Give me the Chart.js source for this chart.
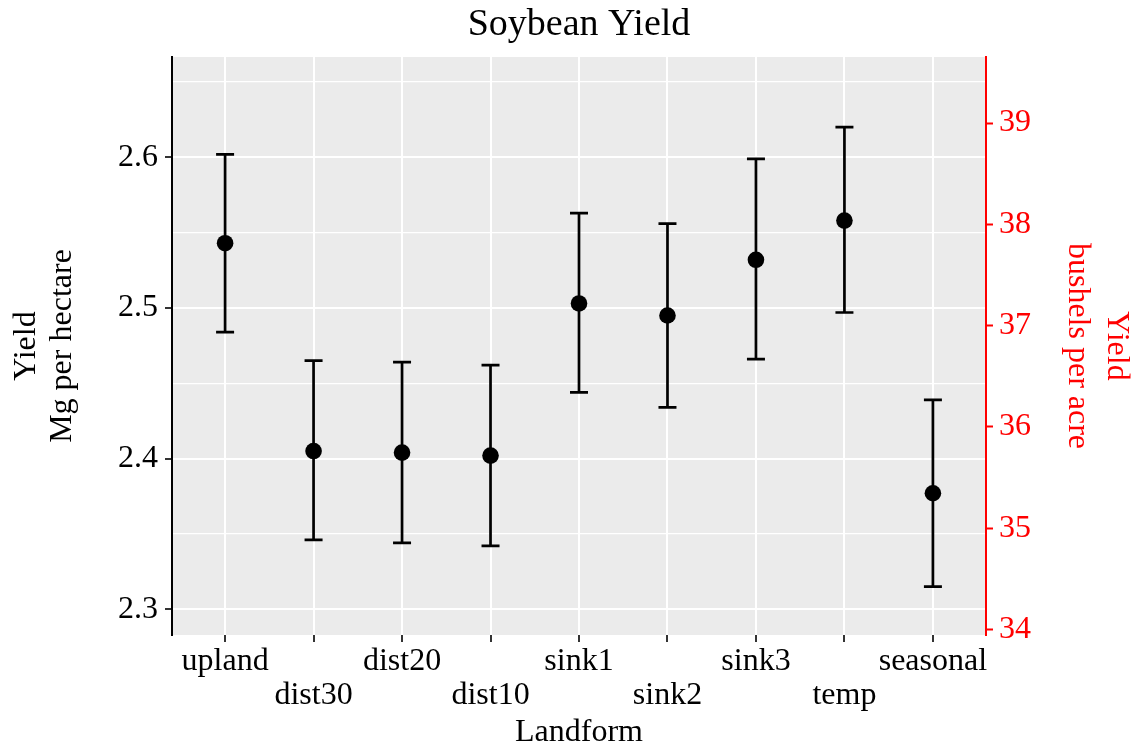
<!DOCTYPE html>
<html lang="en">
<head>
  <meta charset="UTF-8" />
  <title>Soybean Yield</title>
  <script src="https://cdn.jsdelivr.net/npm/chart.js"></script>
  <style>
    body { margin: 0; background: #ffffff; }
    canvas { display: block; }
  </style>
</head>
<body>
  <canvas id="yieldChart" width="1135" height="746"></canvas>

  <script>
    // Data
    const landforms = ['upland', 'dist30', 'dist20', 'dist10', 'sink1', 'sink2', 'sink3', 'temp', 'seasonal'];
    const yieldMean  = [2.543, 2.405, 2.404, 2.402, 2.503, 2.495, 2.532, 2.558, 2.377];
    const yieldUpper = [2.602, 2.465, 2.464, 2.462, 2.563, 2.556, 2.599, 2.620, 2.439];
    const yieldLower = [2.484, 2.346, 2.344, 2.342, 2.444, 2.434, 2.466, 2.497, 2.315];

    const leftMajorTicks = [2.3, 2.4, 2.5, 2.6];
    const leftMinorTicks = [2.35, 2.45, 2.55, 2.65];
    const rightTicks = [34, 35, 36, 37, 38, 39];

    const leftMin = 2.2829, leftMax = 2.6666;
    const buPerMg = 14.87;   // Mg/ha -> bushels/acre (soybean)

    const serif = '"Liberation Serif", "Times New Roman", serif';
    const isMajor = v => leftMajorTicks.some(t => Math.abs(t - v) < 1e-6);

    const panelBg = {
      id: 'panelBg',
      beforeDraw(chart) {
        const { ctx, chartArea: a } = chart;
        ctx.save();
        ctx.fillStyle = '#EBEBEB';
        ctx.fillRect(a.left, a.top, a.right - a.left, a.bottom - a.top);
        ctx.restore();
      }
    };

    const errorBars = {
      id: 'errorBars',
      beforeDatasetsDraw(chart) {
        const { ctx } = chart;
        const xs = chart.scales.x, ys = chart.scales.y;
        ctx.save();
        ctx.strokeStyle = '#000';
        ctx.lineWidth = 2.7;
        landforms.forEach((_, i) => {
          const x = xs.getPixelForValue(i);
          const yu = ys.getPixelForValue(yieldUpper[i]);
          const yl = ys.getPixelForValue(yieldLower[i]);
          ctx.beginPath();
          ctx.moveTo(x, yu); ctx.lineTo(x, yl);
          ctx.moveTo(x - 9, yu); ctx.lineTo(x + 9, yu);
          ctx.moveTo(x - 9, yl); ctx.lineTo(x + 9, yl);
          ctx.stroke();
        });
        ctx.restore();
      }
    };

    const titles = {
      id: 'titles',
      afterDraw(chart) {
        const { ctx, chartArea: a } = chart;
        const cx = (a.left + a.right) / 2;
        const cy = (a.top + a.bottom) / 2;
        ctx.save();
        ctx.textAlign = 'center';
        ctx.textBaseline = 'alphabetic';

        ctx.fillStyle = '#000';
        ctx.font = '38px ' + serif;
        ctx.fillText('Soybean Yield', cx, 35);

        ctx.font = '32px ' + serif;
        ctx.fillText('Landform', cx, 741);

        // left axis title
        [['Yield', 35], ['Mg per hectare', 71]].forEach(([t, bx]) => {
          ctx.save();
          ctx.translate(bx, cy);
          ctx.rotate(-Math.PI / 2);
          ctx.fillText(t, 0, 0);
          ctx.restore();
        });

        // right axis title
        ctx.fillStyle = '#FF0000';
        [['Yield', 1108], ['bushels per acre', 1069]].forEach(([t, bx]) => {
          ctx.save();
          ctx.translate(bx, cy);
          ctx.rotate(Math.PI / 2);
          ctx.fillText(t, 0, 0);
          ctx.restore();
        });
        ctx.restore();
      }
    };

    const ctx = document.getElementById('yieldChart').getContext('2d');
    new Chart(ctx, {
      type: 'scatter',
      data: {
        datasets: [{
          data: landforms.map((_, i) => ({ x: i, y: yieldMean[i] })),
          yAxisID: 'y',
          backgroundColor: '#000',
          borderWidth: 0,
          pointRadius: 8.3,
          pointHoverRadius: 8.3
        }]
      },
      options: {
        responsive: false,
        animation: false,
        layout: { padding: { top: 57, left: 0, right: 0, bottom: 0 } },
        plugins: { legend: { display: false }, tooltip: { enabled: false }, title: { display: false } },
        scales: {
          x: {
            type: 'linear',
            position: 'bottom',
            min: -0.6,
            max: landforms.length - 1 + 0.6,
            afterBuildTicks: s => { s.ticks = landforms.map((_, i) => ({ value: i })); },
            afterFit: s => { s.height = 111; },
            border: { display: false },
            grid: { color: '#FFFFFF', lineWidth: 2, tickColor: '#333333', tickLength: 7, tickWidth: 2 },
            ticks: {
              autoSkip: false,
              maxRotation: 0,
              padding: 3,
              color: '#000',
              font: { family: serif, size: 32, lineHeight: 34 / 32 },
              callback: v => (v % 2 === 0 ? [landforms[v]] : ['', landforms[v]])
            }
          },
          y: {
            position: 'left',
            min: leftMin,
            max: leftMax,
            afterBuildTicks: s => {
              s.ticks = [...leftMajorTicks, ...leftMinorTicks].sort((a, b) => a - b).map(v => ({ value: v }));
            },
            afterFit: s => { s.width = 172; },
            border: { color: '#000', width: 2 },
            grid: {
              color: '#FFFFFF',
              lineWidth: c => (c.tick && isMajor(c.tick.value) ? 2 : 1.2),
              tickColor: c => (c.tick && isMajor(c.tick.value) ? '#333333' : 'rgba(0,0,0,0)'),
              tickLength: 7,
              tickWidth: 2
            },
            ticks: {
              padding: 7,
              color: '#000',
              font: { family: serif, size: 32 },
              callback: v => (isMajor(v) ? String(v) : '')
            }
          },
          y2: {
            position: 'right',
            min: leftMin * buPerMg,
            max: leftMax * buPerMg,
            afterBuildTicks: s => { s.ticks = rightTicks.map(v => ({ value: v })); },
            afterFit: s => { s.width = 149; },
            border: { color: '#FF0000', width: 2 },
            grid: { drawOnChartArea: false, tickColor: '#FF0000', tickLength: 7, tickWidth: 2 },
            ticks: {
              padding: 6,
              color: '#FF0000',
              font: { family: serif, size: 32 },
              callback: v => String(v)
            }
          }
        }
      },
      plugins: [panelBg, errorBars, titles]
    });
  </script>
</body>
</html>
